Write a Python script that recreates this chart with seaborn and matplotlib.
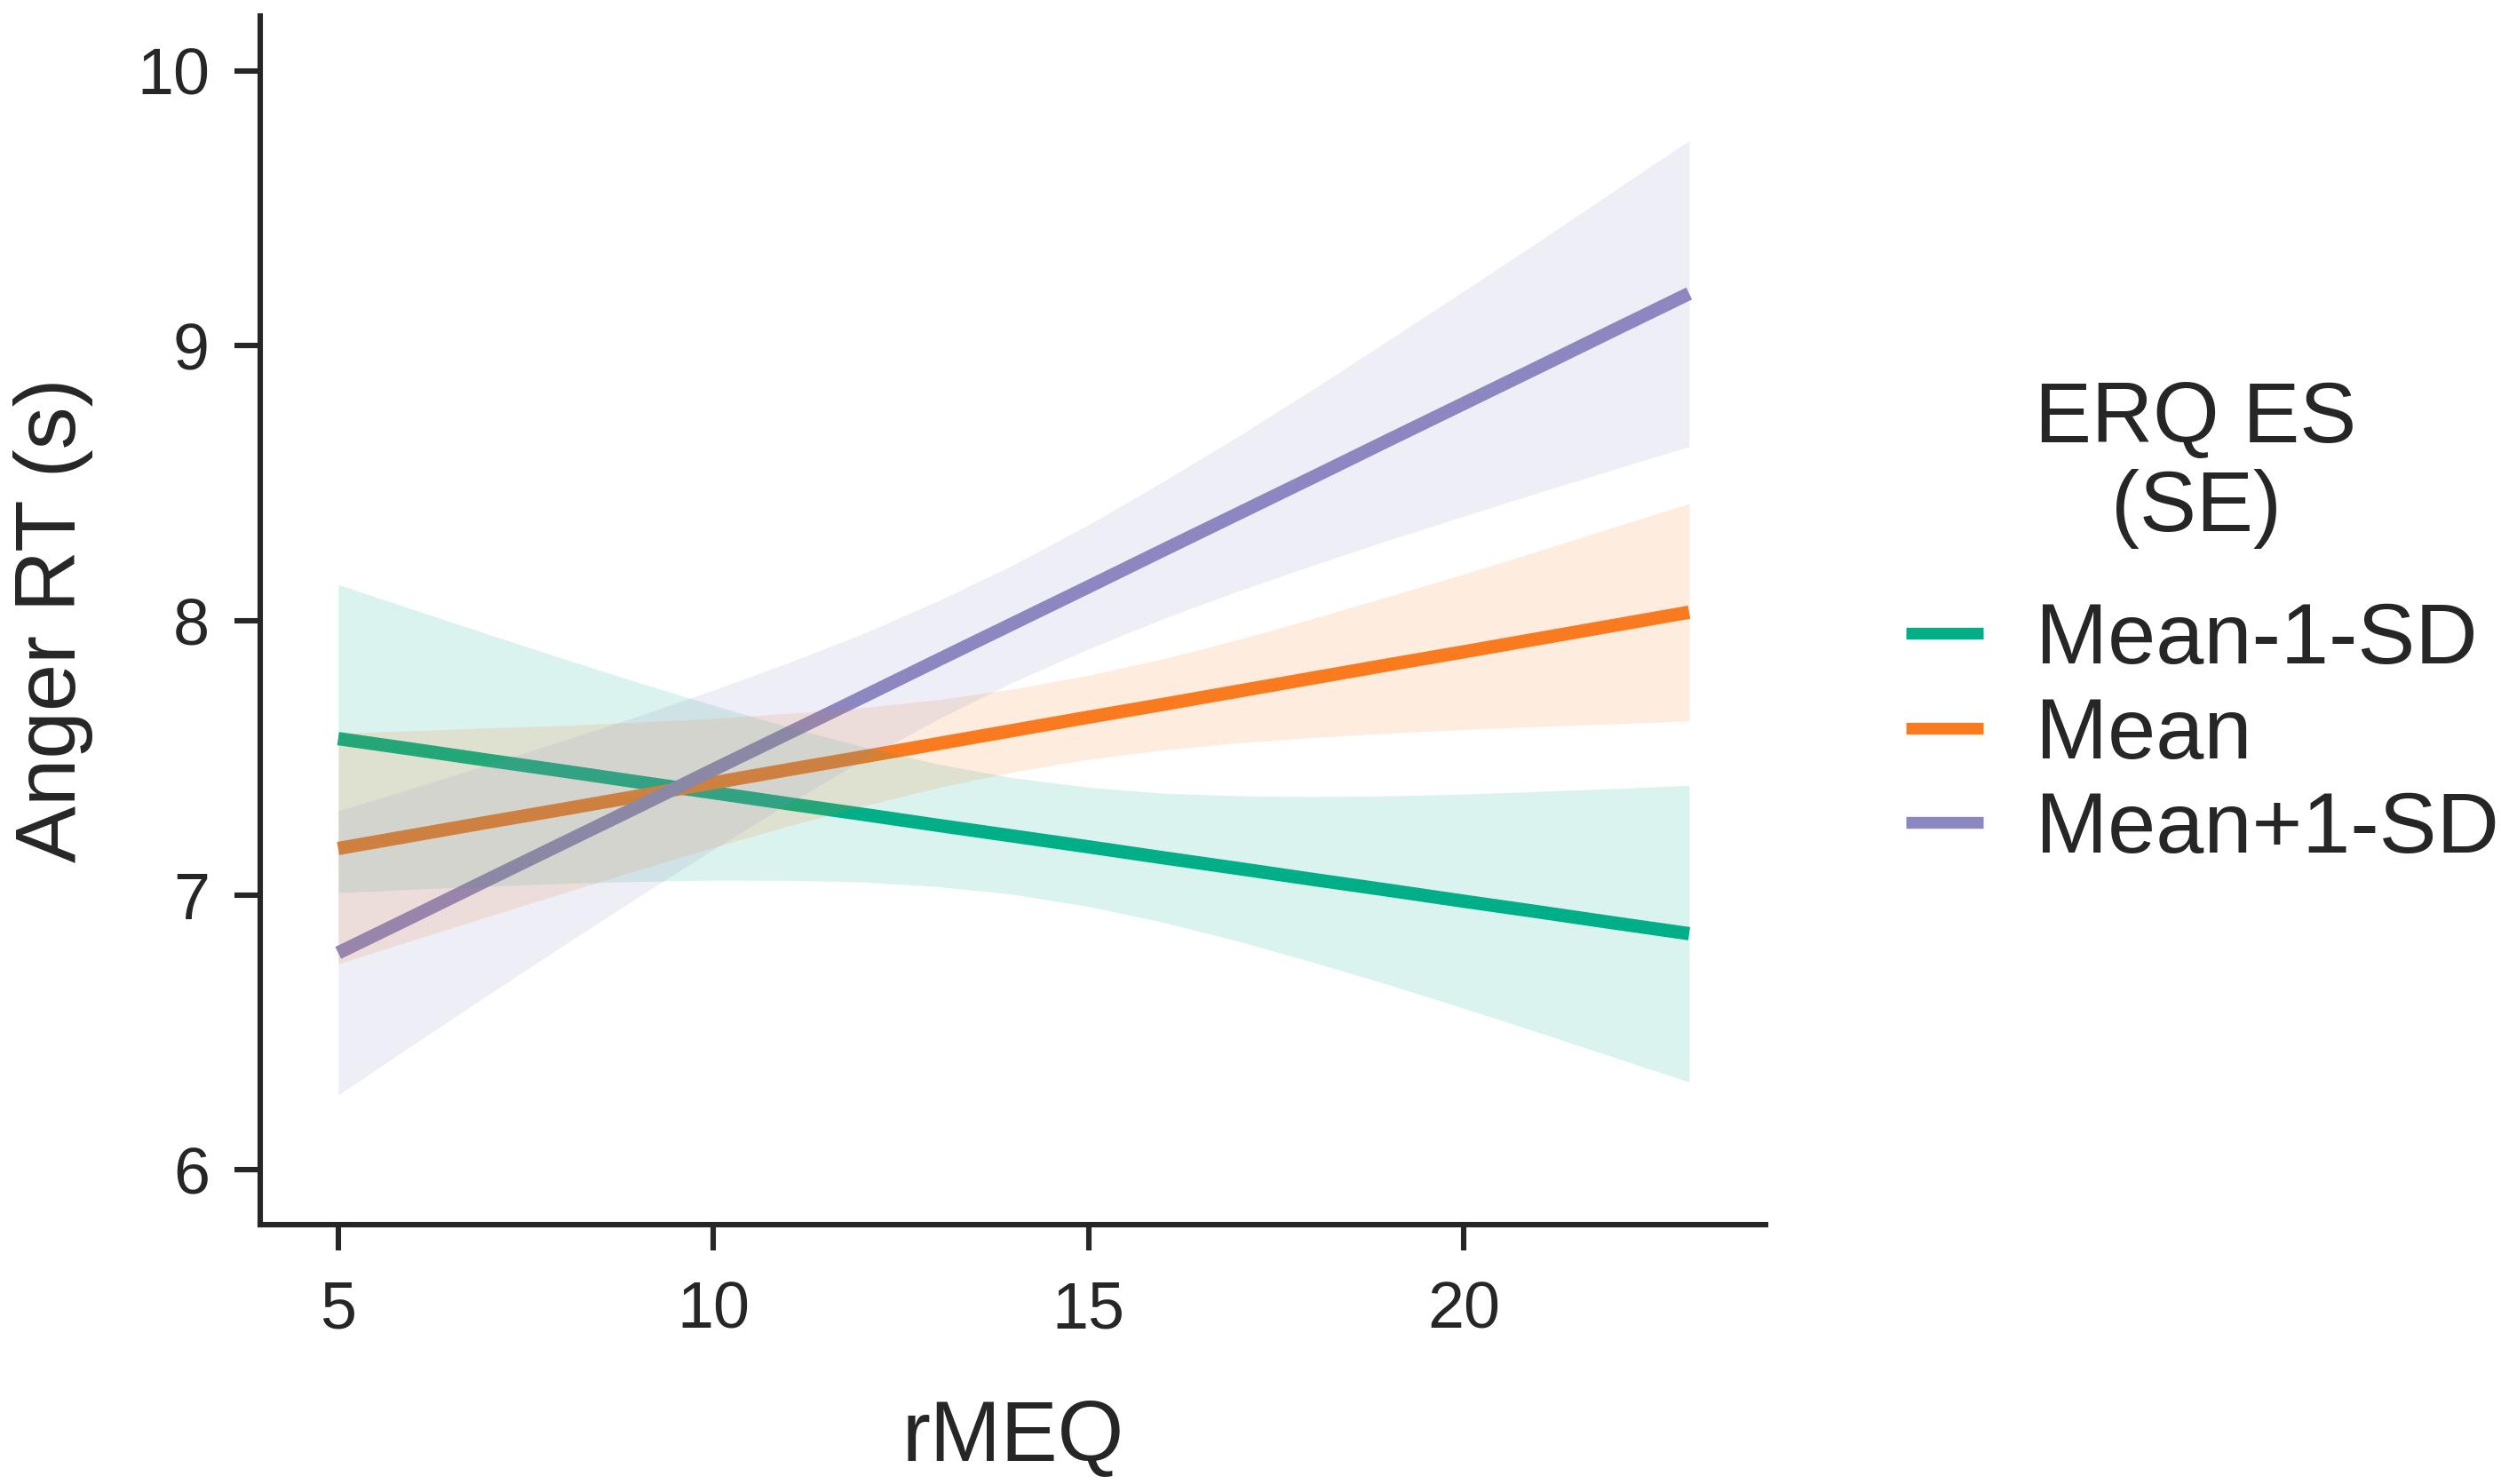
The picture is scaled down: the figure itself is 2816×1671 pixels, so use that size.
import pandas as pd
import matplotlib.pyplot as plt
import seaborn as sns

rmeq = list(range(5, 24))
groups = ['Mean-1-SD', 'Mean', 'Mean+1-SD']
colors = ['#00AF87', '#F97A1F', '#8C87C0']

# fitted Anger RT (s)
fit_low = [7.570, 7.531, 7.491, 7.452, 7.412, 7.373, 7.333, 7.294, 7.254, 7.215,
           7.176, 7.136, 7.097, 7.057, 7.018, 6.978, 6.939, 6.899, 6.860]
fit_mean = [7.170, 7.218, 7.266, 7.313, 7.361, 7.409, 7.457, 7.504, 7.552, 7.600,
            7.648, 7.695, 7.743, 7.791, 7.839, 7.886, 7.934, 7.982, 8.030]
fit_high = [6.790, 6.923, 7.057, 7.190, 7.323, 7.457, 7.590, 7.723, 7.857, 7.990,
            8.123, 8.257, 8.390, 8.523, 8.657, 8.790, 8.923, 9.057, 9.190]

# SE band edges
lo_low = [7.009, 7.022, 7.032, 7.043, 7.050, 7.055, 7.054, 7.048, 7.031, 7.003,
          6.959, 6.901, 6.832, 6.755, 6.674, 6.588, 6.500, 6.410, 6.320]
hi_low = [8.131, 8.040, 7.950, 7.861, 7.774, 7.691, 7.612, 7.540, 7.477, 7.427,
          7.393, 7.371, 7.362, 7.359, 7.362, 7.368, 7.378, 7.388, 7.400]
lo_mean = [6.750, 6.837, 6.923, 7.008, 7.092, 7.174, 7.252, 7.325, 7.392, 7.449,
           7.495, 7.529, 7.555, 7.574, 7.590, 7.603, 7.614, 7.624, 7.634]
hi_mean = [7.590, 7.599, 7.609, 7.618, 7.630, 7.644, 7.662, 7.683, 7.712, 7.751,
           7.801, 7.861, 7.931, 8.008, 8.088, 8.169, 8.254, 8.340, 8.426]
lo_high = [6.273, 6.456, 6.638, 6.817, 6.994, 7.167, 7.334, 7.493, 7.642, 7.777,
           7.897, 8.007, 8.108, 8.202, 8.293, 8.380, 8.466, 8.550, 8.633]
hi_high = [7.307, 7.390, 7.476, 7.563, 7.652, 7.747, 7.846, 7.953, 8.072, 8.203,
           8.349, 8.507, 8.672, 8.844, 9.021, 9.200, 9.380, 9.564, 9.747]

fits = [fit_low, fit_mean, fit_high]
bands = [(lo_low, hi_low), (lo_mean, hi_mean), (lo_high, hi_high)]

df = pd.concat([
    pd.DataFrame({'rMEQ': rmeq, 'RT': f, 'group': g})
    for g, f in zip(groups, fits)
])

sns.set_theme(style='ticks')
plt.rcParams['font.family'] = ['Liberation Sans', 'DejaVu Sans']
ink = '#262626'

fig = plt.figure(figsize=(14.08, 8.355), dpi=200)
ax = fig.add_axes([0.104, 0.1746, 0.602, 0.8146])

sns.lineplot(data=df, x='rMEQ', y='RT', hue='group', hue_order=groups,
             palette=colors, linewidth=5.4, errorbar=None, ax=ax,
             solid_capstyle='butt')

# ribbons sit over the lines, like in the original
for (lo, hi), c in zip(bands, colors):
    ax.fill_between(rmeq, lo, hi, color=c, alpha=0.14, linewidth=0, zorder=3)

ax.set_xlim(3.96, 24.02)
ax.set_ylim(5.8, 10.2)
ax.set_xticks([5, 10, 15, 20])
ax.set_yticks([6, 7, 8, 9, 10])

for side in ['top', 'right']:
    ax.spines[side].set_visible(False)
for side in ['left', 'bottom']:
    ax.spines[side].set_linewidth(2.2)
    ax.spines[side].set_color(ink)
ax.tick_params(axis='both', length=10.5, width=2.2, color=ink,
               labelsize=26.5, labelcolor=ink, pad=10)
ax.tick_params(axis='x', pad=12)

ax.set_xlabel('rMEQ', fontsize=34.5, color=ink)
ax.set_ylabel('Anger RT (s)', fontsize=34.5, color=ink)
ax.xaxis.set_label_coords(0.5, -0.144)
ax.yaxis.set_label_coords(-0.111, 0.5)

handles, labels = ax.get_legend_handles_labels()
leg = ax.legend(handles, labels, frameon=False,
                loc='center left', bbox_to_anchor=(0.762, 0.504),
                bbox_transform=fig.transFigure, fontsize=35,
                handlelength=0.9, handletextpad=0.6,
                labelspacing=0.17, borderpad=0, borderaxespad=0)
for t in leg.get_texts():
    t.set_color(ink)
for h in leg.get_lines():
    h.set_linewidth(4.8)
    h.set_solid_capstyle('butt')

fig.text(0.878, 0.687, 'ERQ ES\n(SE)', ha='center', va='center',
         multialignment='center', fontsize=34.5, color=ink, linespacing=1.15)

fig.savefig('out.png', dpi=200)
